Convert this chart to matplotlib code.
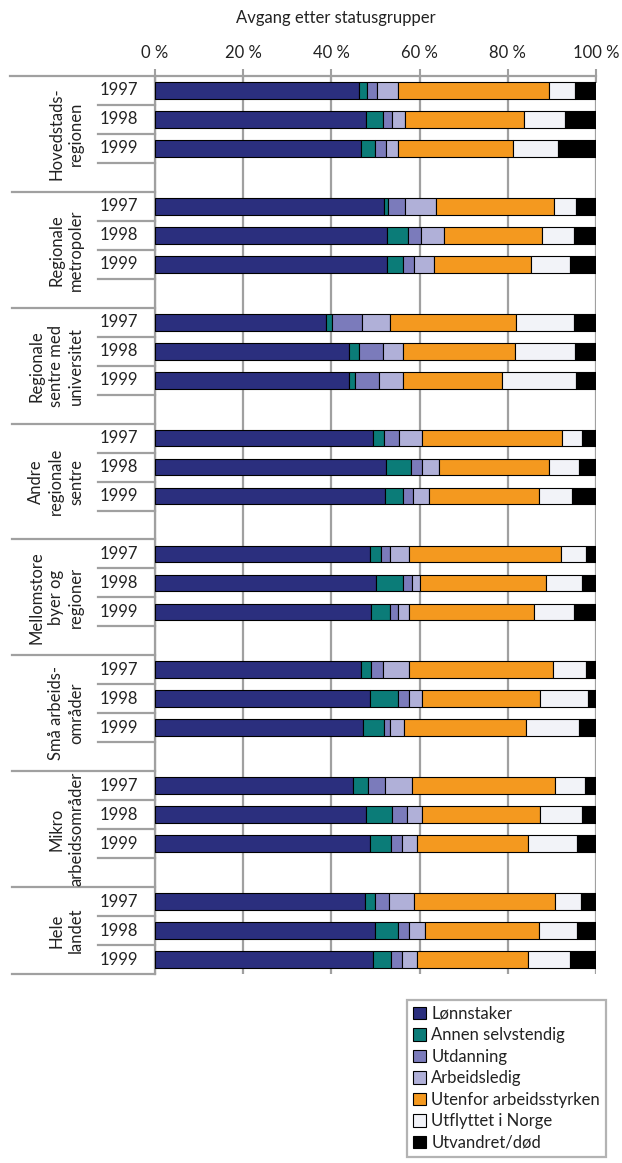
import matplotlib
matplotlib.use("Agg")
import matplotlib.pyplot as plt
from matplotlib.patches import Patch
import numpy as np

plt.rcParams['font.family'] = ['Lato', 'DejaVu Sans']

title = "Avgang etter statusgrupper"
groups = ["Hovedstads-\nregionen", "Regionale\nmetropoler", "Regionale\nsentre med\nuniversitet",
          "Andre\nregionale\nsentre", "Mellomstore\nbyer og\nregioner", "Små arbeids-\nområder",
          "Mikro\narbeidsområder", "Hele\nlandet"]
years = ["1997", "1998", "1999"]
series_names = ["Lønnstaker", "Annen selvstendig", "Utdanning", "Arbeidsledig",
                "Utenfor arbeidsstyrken", "Utflyttet i Norge", "Utvandret/død"]
colors = ["#2B2F7E", "#0B7C78", "#7B7BBB", "#B0B0D8", "#F4991F", "#F2F3F8", "#000000"]

lonnstaker = [46.2, 47.8, 46.7, 51.9, 52.5, 52.5, 38.7, 43.9, 43.9, 49.4, 52.4, 52.2,
              48.7, 50.2, 48.9, 46.6, 48.8, 47.2, 45.0, 47.8, 48.8, 47.7, 49.9, 49.4]
annen = [1.8, 3.9, 3.2, 1.0, 4.8, 3.8, 1.4, 2.4, 1.4, 2.5, 5.6, 4.1,
         2.5, 6.0, 4.5, 2.4, 6.3, 4.7, 3.3, 6.0, 4.7, 2.1, 5.2, 4.1]
utdanning = [2.4, 2.1, 2.5, 3.8, 3.0, 2.5, 6.9, 5.3, 5.4, 3.4, 2.5, 2.1,
             2.2, 2.0, 1.7, 2.7, 2.6, 1.5, 3.8, 3.3, 2.4, 3.3, 2.6, 2.4]
arbeidsledig = [4.6, 3.0, 2.7, 7.1, 5.3, 4.5, 6.2, 4.7, 5.6, 5.2, 3.8, 3.7,
                4.2, 2.0, 2.5, 5.9, 2.8, 3.0, 6.2, 3.4, 3.4, 5.6, 3.6, 3.4]
utenfor = [34.3, 26.8, 26.1, 26.6, 22.1, 22.0, 28.7, 25.3, 22.3, 31.7, 25.0, 25.0,
           34.5, 28.5, 28.3, 32.6, 26.7, 27.7, 32.3, 26.7, 25.2, 31.9, 25.8, 25.2]
utflyttet = [6.0, 9.4, 10.2, 5.1, 7.2, 8.7, 13.1, 13.6, 16.8, 4.7, 6.8, 7.4,
             5.6, 8.1, 9.1, 7.6, 11.0, 12.0, 6.8, 9.6, 11.3, 6.0, 8.6, 9.7]
utvandret = [4.7, 7.0, 8.6, 4.5, 5.1, 6.0, 5.0, 4.8, 4.6, 3.1, 3.9, 5.5,
             2.3, 3.2, 5.0, 2.2, 1.8, 3.9, 2.6, 3.2, 4.2, 3.4, 4.3, 5.8]
series = [lonnstaker, annen, utdanning, arbeidsledig, utenfor, utflyttet, utvandret]
xticks = [0, 20, 40, 60, 80, 100]

W, H = 622, 1163
fig = plt.figure(figsize=(W / 100, H / 100), dpi=100)
x0, x1, ytop, ybot = 155, 596, 76, 974
ax = fig.add_axes([x0 / W, 1 - ybot / H, (x1 - x0) / W, (ybot - ytop) / H])

ng, ny = len(groups), len(years)
nslots = ng * 4 - 1
ypos = np.array([4 * g + j for g in range(ng) for j in range(ny)])
data = np.array(series, dtype=float)
tot = data.sum(axis=0)
pct = data / tot * 100
left = np.zeros(len(ypos))
for k, name in enumerate(series_names):
    ax.barh(ypos, pct[k], left=left, height=0.58, color=colors[k],
            edgecolor="black", linewidth=0.8, zorder=3)
    left += pct[k]

grey = "#A0A0A0"
txt = "#222222"
ax.set_xlim(0, 100)
ax.set_ylim(nslots - 0.5, -0.5)
ax.set_xticks(xticks)
ax.set_xticklabels([f"{v} %" for v in xticks], fontsize=12, color=txt)
ax.xaxis.tick_top()
ax.tick_params(axis="x", direction="inout", length=10, width=1.5, color=grey, pad=6)
ax.set_yticks([])
ax.grid(axis="x", color=grey, linewidth=1.6, zorder=0)
ax.set_axisbelow(True)
for s in ["right", "bottom"]:
    ax.spines[s].set_visible(False)
for s in ["top", "left"]:
    ax.spines[s].set_color(grey)
    ax.spines[s].set_linewidth(1.6)

def px2ax(px):
    return (px - x0) / (x1 - x0)

trans = ax.get_yaxis_transform()  # x axes, y data
ax.plot([px2ax(10), 0], [-0.5, -0.5], transform=trans, color=grey, lw=1.6, clip_on=False)
for g in range(1, ng + 1):
    yb = min(4 * g - 0.5, nslots - 0.5)
    ax.plot([px2ax(12), 0], [yb, yb], transform=trans, color=grey, lw=1.6, clip_on=False)
for g in range(ng):
    for j in range(ny):
        s = 4 * g + j
        if s + 0.5 < nslots - 0.5:
            ax.plot([px2ax(98), 0], [s + 0.5, s + 0.5], transform=trans, color=grey,
                    lw=1.6, clip_on=False)
        ax.text(px2ax(138), s, years[j], transform=trans, ha="right", va="center",
                fontsize=12, color=txt)
    top = 4 * g - 0.5
    bot = min(4 * g + 3.5, nslots - 0.5)
    ax.text(px2ax(84), (top + bot) / 2, groups[g], transform=trans, rotation=90,
            ha="right", va="center", multialignment="center", fontsize=12,
            linespacing=1.3, color=txt)

fig.text(336 / W, 1 - 18 / H, title, ha="center", va="center", fontsize=12, color=txt)

handles = [Patch(facecolor=c, edgecolor="black", linewidth=0.8) for c in colors]
leg = fig.legend(handles, series_names, loc="upper left",
                 bbox_to_anchor=(407 / W, 1 - 1000 / H), borderaxespad=0, fontsize=12,
                 frameon=True, fancybox=False, handlelength=0.8, handleheight=0.8,
                 handletextpad=0.3, labelspacing=0.33, borderpad=0.35)
leg.get_frame().set_edgecolor(grey)
leg.get_frame().set_linewidth(1.6)
for t in leg.get_texts():
    t.set_color(txt)

fig.savefig("out.png", dpi=100)
